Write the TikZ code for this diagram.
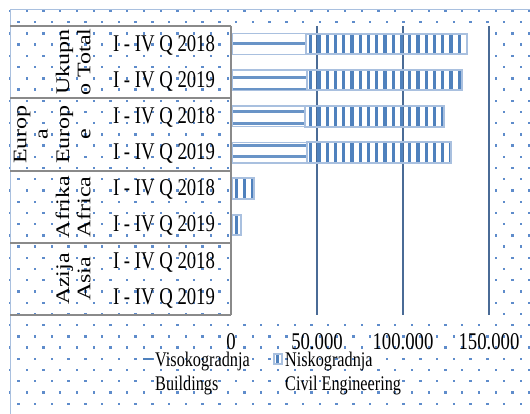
\documentclass[tikz,border=0pt]{standalone}
\usepackage{fontspec}
\usepackage{graphicx}
\usepackage{tikz}
\newfontfamily\chartfont[FakeStretch=0.78]{Liberation Serif}
\newfontfamily\groupfont{Liberation Serif}
\newcommand\squeezed[1]{\scalebox{1}[0.8]{\begin{tabular}{@{}c@{}}#1\end{tabular}}}
\definecolor{stripeblue}{HTML}{4F81BD}
\definecolor{paleblue}{HTML}{A9C0DF}
\definecolor{gridblue}{HTML}{4A6B96}
\definecolor{dotblue}{HTML}{5F8CCB}
\definecolor{framegray}{HTML}{8A8A8A}

\begin{document}
\begin{tikzpicture}[
    x=1pt, y=-1pt,
    catlabel/.style={inner sep=0pt, anchor=base,
    font=\chartfont\fontsize{24}{24}\selectfont},
    grplabel/.style={inner sep=0pt, rotate=90, anchor=south,
    font=\groupfont\fontsize{24}{26.7}\selectfont},
    ticklabel/.style={inner sep=0pt, anchor=base,
    font=\chartfont\fontsize{24}{24}\selectfont},
    legendtext/.style={inner sep=0pt, anchor=base west,
    font=\chartfont\fontsize{20.8}{24}\selectfont},
    tableline/.style={draw=framegray, line width=1.6pt},
    gridline/.style={draw=gridblue, line width=1.5pt},
    barframe/.style={draw=paleblue, line width=1.3pt},
    civilframe/.style={draw=paleblue, line width=2pt},
    bgdot/.style={fill=dotblue},
]
\useasboundingbox (0,0) rectangle (530,414);
\fill[white] (0,0) rectangle (530,414);

% DOTTED BACKGROUND (all but the plot area)
\foreach \k in {0,...,36} {
    \foreach \j in {0,...,31} {
        \pgfmathsetmacro\dx{10+mod(\k,2)*8.4+16.75*\j}
        \pgfmathsetmacro\dy{11+11.22*\k}
        \pgfmathtruncatemacro\inplot{(\dx>232)*(\dx<489)*(\dy>26)*(\dy<314)}
        \ifnum\inplot=0
            \path[bgdot] (\dx-1.2,\dy-1.2) rectangle ++(2.4,2.4);
        \fi
    }
}
\draw[paleblue, line width=1pt] (530,10) -- (10,10) -- (10,414);

% PLOT AREA
\foreach \gx in {317,403,489}
    \draw[gridline] (\gx,26) -- (\gx,315);

% BUILDINGS
\foreach \yc/\xb in {44/306, 80.2/307, 116.4/305, 152.6/307} {
    \begin{scope}
        \clip (232,\yc-10.3) rectangle (\xb,\yc+10.3);
        \foreach \k in {0,...,10}
            \draw[stripeblue!85, line width=3pt] (232,44+11.3*\k) -- (\xb,44+11.3*\k);
    \end{scope}
    \draw[barframe] (232,\yc-10.3) rectangle (\xb,\yc+10.3);
}

% CIVIL ENGINEERING
\foreach \yc/\xb/\xc in {44/306/467, 80.2/307/462, 116.4/305/444,
    152.6/307/451, 188.8/232/254, 225/232/241} {
    \begin{scope}
        \clip (\xb,\yc-10.3) rectangle (\xc,\yc+10.3);
        \foreach \j in {0,...,29}
            \fill[stripeblue] (234.9+8.25*\j,\yc-11) rectangle ++(3.2,22);
    \end{scope}
    \draw[civilframe] (\xb,\yc-10.3) rectangle (\xc,\yc+10.3);
}

% CATEGORY TABLE
\foreach \ty in {26,98,171,243,315}
    \draw[tableline] (10,\ty) -- (231,\ty);
\draw[tableline] (231,26) -- (231,315);

% QUARTER LABELS
\foreach \yc/\yr [count=\i] in {44/2018, 80/2019, 116/2018, 152/2019,
    188/2018, 224/2019, 260/2018, 296/2019}
    \node[catlabel] (quarter\i) at (164,\yc+8) {I - IV Q \yr};

% REGION LABELS
\node[grplabel] (total) at (97,62) {\squeezed{Ukupn\\o Total}};
\node[grplabel] (europe) at (97,134.5) {\squeezed{Europ\\a\\Europ\\e}};
\node[grplabel] (africa) at (97,207) {\squeezed{Afrika\\Africa}};
\node[grplabel] (asia) at (97,279) {\squeezed{Azija\\Asia}};

% AXIS LABELS
\node[ticklabel] (tick0) at (231,349) {0};
\node[ticklabel] (tick1) at (317,349) {50.000};
\node[ticklabel] (tick2) at (403,349) {100.000};
\node[ticklabel] (tick3) at (489,349) {150.000};

% LEGEND
\draw[stripeblue, line width=2pt] (143,359) -- (153,359);
\node[legendtext] (visoko) at (155,366) {Visokogradnja};
\node[legendtext] (buildings) at (155,390) {Buildings};
\begin{scope}
    \clip (274,354) rectangle (282,364);
    \fill[stripeblue] (276.4,353) rectangle (279.4,365);
\end{scope}
\draw[paleblue, line width=1.3pt] (274,354) rectangle (282,364);
\node[legendtext] (nisko) at (285,366) {Niskogradnja};
\node[legendtext] (civil) at (285,390) {Civil Engineering};

\end{tikzpicture}
\end{document}
